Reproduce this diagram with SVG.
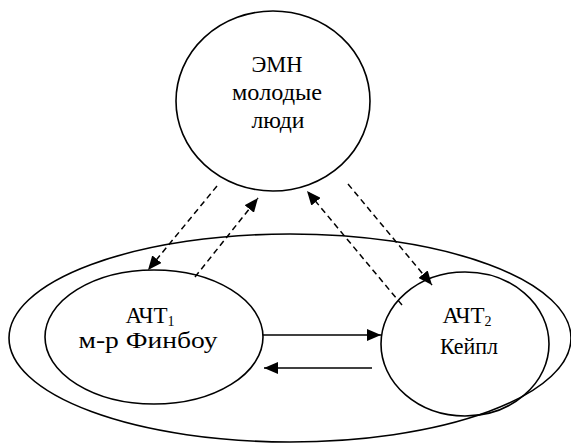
<svg xmlns="http://www.w3.org/2000/svg" width="571" height="443" viewBox="0 0 571 443">
<style>
.node{fill:none;stroke:#000;stroke-width:1.6}
.t{font-family:'Liberation Serif','Times New Roman',serif;font-size:23px;fill:#000;text-anchor:middle}
.sub{font-size:14px}
.solid{stroke:#000;stroke-width:1.6;fill:none}
.dash{stroke:#000;stroke-width:1.5;fill:none;stroke-dasharray:6,4}
</style>
<defs>
<marker id="ah" viewBox="0 0 14 12" refX="14" refY="6" markerWidth="14" markerHeight="12" markerUnits="userSpaceOnUse" orient="auto">
<path d="M0,0 L14,6 L0,12 z" fill="#000"/>
</marker>
</defs>
<g id="outer"><ellipse class="node" cx="290" cy="338" rx="281" ry="104"/></g>
<g id="emn">
<ellipse class="node" cx="273" cy="101" rx="97" ry="90"/>
<text class="t" x="277" y="72" textLength="51" lengthAdjust="spacingAndGlyphs">ЭМН</text>
<text class="t" x="277" y="100" textLength="90" lengthAdjust="spacingAndGlyphs">молодые</text>
<text class="t" x="278" y="128" textLength="53" lengthAdjust="spacingAndGlyphs">люди</text>
</g>
<g id="act1">
<ellipse class="node" cx="154" cy="337" rx="109" ry="67"/>
<text class="t" x="150" y="323">АЧТ<tspan class="sub" dy="3">1</tspan></text>
<text class="t" x="148" y="348" textLength="139" lengthAdjust="spacingAndGlyphs">м-р Финбоу</text>
</g>
<g id="act2">
<ellipse class="node" cx="465" cy="344" rx="84" ry="72"/>
<text class="t" x="467" y="323">АЧТ<tspan class="sub" dy="3">2</tspan></text>
<text class="t" x="469" y="354" textLength="58" lengthAdjust="spacingAndGlyphs">Кейпл</text>
</g>
<g id="connectors">
<line class="solid" x1="263" y1="335" x2="381" y2="335" marker-end="url(#ah)"/>
<line class="solid" x1="372" y1="368" x2="264" y2="368" marker-end="url(#ah)"/>
<line class="dash" x1="217" y1="186" x2="148" y2="270" marker-end="url(#ah)"/>
<line class="dash" x1="195" y1="277" x2="258" y2="198" marker-end="url(#ah)"/>
<line class="dash" x1="402" y1="305" x2="307" y2="191" marker-end="url(#ah)"/>
<line class="dash" x1="348" y1="184" x2="432" y2="285" marker-end="url(#ah)"/>
</g>
</svg>
